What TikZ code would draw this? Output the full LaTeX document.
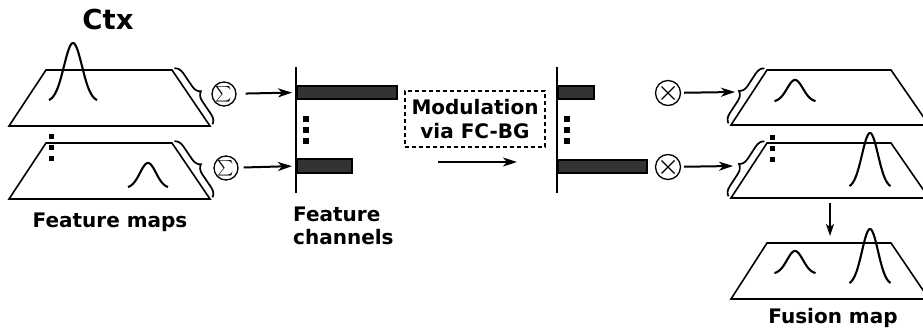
\documentclass[tikz,border=0pt]{standalone}
\usepackage{fontspec}
\usepackage{graphicx}
\setmainfont{DejaVu Sans}
\usetikzlibrary{arrows.meta,decorations.pathreplacing,calc}
\definecolor{barfill}{HTML}{333333}
\newcommand\gausscurve[5]{%
  \draw[curve] plot[domain=-#5:#5,samples=50,smooth] ({#1+\x},{#2-#3*exp(-(\x)^2/(2*#4*#4))});}
\begin{document}
\begin{tikzpicture}[x=1pt,y=-1pt,
  edge/.style={line width=1.6pt},
  curve/.style={line width=2.1pt},
  arr/.style={line width=2pt,-{Stealth[length=14pt,width=9pt,inset=4pt]}},
  brc/.style={line width=1.7pt,decorate,decoration={brace,amplitude=9pt,raise=3pt}},
  bar/.style={draw,line width=1.6pt,fill=barfill,minimum height=13pt,inner sep=0pt,anchor=west},
  lbl/.style={font=\fontsize{20}{23.5}\selectfont\bfseries,align=center,inner sep=0pt},
  op/.style={circle,draw,line width=1.3pt,minimum size=24pt,inner sep=0pt},
  dotsq/.style={fill=black,minimum size=5pt,inner sep=0pt}]
\useasboundingbox (0,0) rectangle (923,331);

% ---------- left feature maps ----------
\draw[edge] (46,70) -- (172,70) -- (210,126) -- (9,126) -- cycle;
\gausscurve{73}{101.7}{58.7}{9}{24}
\draw[edge] (46,143) -- (172,143) -- (210,199) -- (9,199) -- cycle;
\gausscurve{148}{188.1}{25.1}{8}{20}
\node[dotsq] (ld1) at (51,137) {};
\node[dotsq] (ld2) at (51,148) {};
\node[dotsq] (ld3) at (51,159) {};
\draw[brc] (172,70) -- (210,126);
\draw[brc] (172,143) -- (210,199);

\node[lbl,font=\fontsize{27.5}{30}\selectfont\bfseries] (ctx) at (108,19) {Ctx};
\node[lbl] (fm) at (110,222) {Feature maps};

% ---------- sum operators ----------
\node[op] (s1) at (224,94) {\scalebox{1.55}{$\textstyle\sum$}};
\node[op] (s2) at (226,168) {\scalebox{1.55}{$\textstyle\sum$}};

% ---------- feature channels (left) ----------
\draw[edge] (296,67) -- (296,193);
\node[bar,minimum width=100pt] (b1) at (296,92.5) {};
\node[bar,minimum width=55pt,minimum height=14pt] (b2) at (296,166) {};
\node[dotsq,minimum size=5.5pt] (cd1) at (306,119) {};
\node[dotsq,minimum size=5.5pt] (cd2) at (306,130) {};
\node[dotsq,minimum size=5.5pt] (cd3) at (306,141) {};
\node[lbl,align=left,anchor=west] (fc) at (293,226) {Feature\\channels};

\draw[arr,shorten <=9pt,shorten >=4pt] (s1) -- (b1.west);
\draw[arr,shorten <=5pt,shorten >=4pt] (s2) -- (b2.west);

% ---------- modulation ----------
\node[lbl,draw,dash pattern=on 4pt off 3pt,line width=1.1pt,minimum width=140pt,minimum height=56pt] (mod) at (475,119) {Modulation\\via FC-BG};
\coordinate (ma) at (438,162);
\coordinate (mb) at (517,162);
\draw[arr] (ma) -- (mb);

% ---------- feature channels (right) ----------
\draw[edge] (557,67) -- (557,193);
\node[bar,minimum width=36pt] (b3) at (557,92.5) {};
\node[bar,minimum width=89pt] (b4) at (557,166.5) {};
\node[dotsq,minimum size=5.5pt] (rd1) at (567,119) {};
\node[dotsq,minimum size=5.5pt] (rd2) at (567,130) {};
\node[dotsq,minimum size=5.5pt] (rd3) at (567,141) {};

% ---------- multiply operators ----------
\node[op,minimum size=25pt] (m1) at (668,93) {};
\node[op,minimum size=25pt] (m2) at (668,167) {};
\foreach \m in {m1,m2}{
  \draw[line width=1.1pt] ($(\m.center)+(-6.5,-6.5)$) -- ($(\m.center)+(6.5,6.5)$);
  \draw[line width=1.1pt] ($(\m.center)+(-6.5,6.5)$) -- ($(\m.center)+(6.5,-6.5)$);
}

% ---------- right maps ----------
\draw[edge] (767,70) -- (891,70) -- (929,125) -- (731,125) -- cycle;
\gausscurve{795}{101.9}{21.9}{8}{20.5}
\draw[edge] (767,143) -- (891,143) -- (929,198) -- (731,198) -- cycle;
\gausscurve{870}{188.1}{55.1}{8}{20.5}
\node[dotsq] (rm1) at (772,138) {};
\node[dotsq] (rm2) at (772,149) {};
\node[dotsq] (rm3) at (772,160) {};
\draw[brc] (731,125) -- (767,70);
\draw[brc] (731,198) -- (767,143);
\coordinate (t1) at (735,92);
\coordinate (t2) at (733,166);
\draw[arr,shorten <=3pt] (m1) -- (t1);
\draw[arr,shorten <=3pt] (m2) -- (t2);

% ---------- fusion ----------
\coordinate (da) at (830,203);
\coordinate (db) at (830,236);
\draw[line width=1.8pt,-{Stealth[length=12pt,width=8pt,inset=3pt]}] (da) -- (db);
\draw[edge] (767,243) -- (891,243) -- (929,299) -- (731,299) -- cycle;
\gausscurve{795}{273.9}{22.9}{8}{20.5}
\gausscurve{870}{285.1}{56.1}{8}{20.5}
\node[lbl] (fusion) at (833,318) {Fusion map};
\end{tikzpicture}
\end{document}
